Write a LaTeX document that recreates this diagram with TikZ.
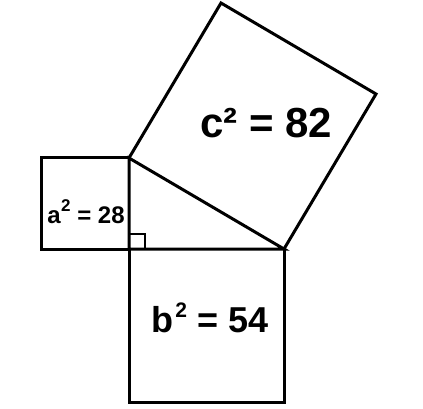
\documentclass[tikz,border=0pt]{standalone}
\usepackage{fontspec}
\setmainfont{Liberation Sans}
\newcommand\mysup[3]{\hspace{#3}\raisebox{#1}{\fontsize{#2}{#2}\selectfont\bfseries 2}}
\begin{document}
\begin{tikzpicture}[x=1pt,y=-1pt,
  edge/.style={draw=black,line width=3pt,line join=miter},
  thin/.style={draw=black,line width=2pt},
  lbl/.style={font=\bfseries\fontsize{#1}{#1}\selectfont,inner sep=0pt,anchor=base}]
\useasboundingbox (0,0) rectangle (423,409);
\coordinate (A) at (129,158);
\coordinate (C) at (129,249);
\coordinate (B) at (284,249);
% a square
\coordinate (a1) at (41,158);
\coordinate (a2) at (41,249);
\draw[edge] (A) -- (a1) -- (a2) -- (C);
% b square
\coordinate (b1) at (129,402);
\coordinate (b2) at (284,402);
\draw[edge] (C) -- (b1) -- (b2) -- (B);
% c square
\coordinate (c1) at (221,3);
\coordinate (c2) at (376,94);
\draw[edge] (A) -- (c1) -- (c2) -- (B);
% triangle
\draw[edge] (A) -- (C) -- (B) -- cycle;
% right angle marker
\coordinate (r1) at (129,234);
\coordinate (r2) at (145,234);
\coordinate (r3) at (145,249);
\draw[thin] (r1) -- (r2) -- (r3);
\node[lbl=24] (la) at (86,223) {a\mysup{12pt}{17}{0.5pt} = 28};
\node[lbl=36] (lb) at (210,332) {b\mysup{15pt}{21}{1.5pt} = 54};
\node[lbl=42] (lc) at (266,138) {c² = 82};
\end{tikzpicture}
\end{document}
